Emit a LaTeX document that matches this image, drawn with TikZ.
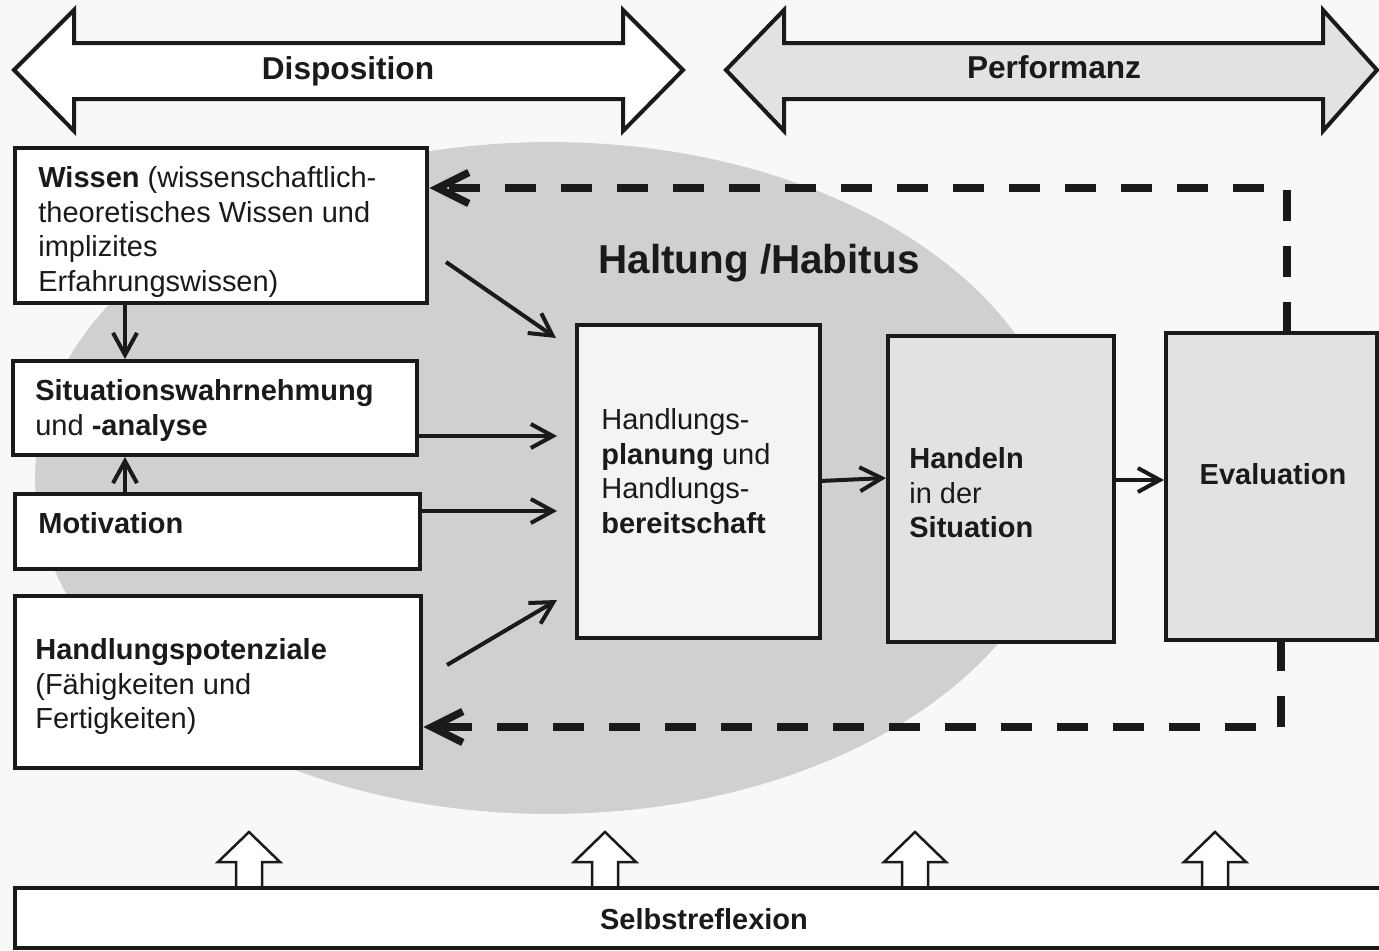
\documentclass[tikz,border=0pt]{standalone}
\usepackage{fontspec}
\setmainfont{Liberation Sans}
\usetikzlibrary{arrows.meta}
\definecolor{bg}{HTML}{F8F8F8}
\definecolor{ell}{HTML}{D0D0D0}
\definecolor{lg}{HTML}{E2E2E2}
\definecolor{pl}{HTML}{F4F4F4}
\definecolor{ink}{HTML}{1A1A1A}
\begin{document}
\begin{tikzpicture}[x=0.02cm,y=-0.02cm,
  every node/.style={font=\fontsize{16.5}{19.75}\selectfont,text=ink},
  box/.style={draw=ink,line width=0.09cm,inner sep=0,outer sep=0,anchor=north west,rectangle},
  txt/.style={inner sep=0,anchor=north west,align=left},
  arr/.style={draw=ink,line width=0.08cm,-{Straight Barb[length=0.44cm,width=0.48cm]}},
  fb/.style={draw=ink,line width=0.15cm,dash pattern=on 0.62cm off 0.5cm,-{Straight Barb[length=0.62cm,width=0.62cm]}},
  bigarrow/.style={draw=ink,line width=0.08cm,line join=miter},
  hollow/.style={draw=ink,line width=0.05cm,fill=white,line join=miter}]
\useasboundingbox (0,0) rectangle (1379,950);
\fill[bg] (0,0) rectangle (1379,950);
% Haltung ellipse
\fill[ell] (550,478) ellipse [x radius=10.3cm, y radius=6.72cm];
% top double arrows
\draw[bigarrow,fill=white] (14,70) -- (74,10) -- (74,43) -- (623,43) -- (623,10) -- (683,70) -- (623,131) -- (623,99) -- (74,99) -- (74,131) -- cycle;
\node[font=\fontsize{18}{21}\selectfont\bfseries,anchor=base] (dispo) at (348,79) {Disposition};
\draw[bigarrow,fill=lg] (726,70) -- (784,10) -- (784,43) -- (1323,43) -- (1323,10) -- (1377,70) -- (1323,131) -- (1323,99) -- (784,99) -- (784,131) -- cycle;
\node[font=\fontsize{18}{21}\selectfont\bfseries,anchor=base] (perf) at (1054,78) {Performanz};
% Haltung label
\node[font=\fontsize{23}{26}\selectfont\bfseries,anchor=base] (haltung) at (759,273) {Haltung /Habitus};
% boxes
\node[box,fill=white,minimum width=8.24cm,minimum height=3.1cm] (wissen) at (15,148) {};
\node[txt] (wissent) at (38,166) {\textbf{Wissen} (wissenschaftlich-\\theoretisches Wissen und\\implizites\\Erfahrungswissen)};
\node[box,fill=white,minimum width=8.08cm,minimum height=1.88cm] (sit) at (13,361) {};
\node[txt] (sitt) at (35,379) {\textbf{Situationswahrnehmung}\\und \textbf{-analyse}};
\node[box,fill=white,minimum width=8.1cm,minimum height=1.5cm] (mot) at (15,494) {};
\node[txt] (mott) at (38,512) {\textbf{Motivation}};
\node[box,fill=white,minimum width=8.12cm,minimum height=3.44cm] (pot) at (15,596) {};
\node[txt] (pott) at (35,638) {\textbf{Handlungspotenziale}\\(Fähigkeiten und\\Fertigkeiten)};
\node[box,fill=pl,minimum width=4.86cm,minimum height=6.26cm] (plan) at (577,325) {};
\node[txt] (plant) at (601,408) {Handlungs-\\\textbf{planung} und\\Handlungs-\\\textbf{bereitschaft}};
\node[box,fill=lg,minimum width=4.52cm,minimum height=6.12cm] (hand) at (888,336) {};
\node[txt] (handt) at (909,447) {\textbf{Handeln}\\in der\\\textbf{Situation}};
\node[box,fill=lg,minimum width=4.22cm,minimum height=6.14cm] (eval) at (1166,333) {};
\node[font=\fontsize{16.5}{19.75}\selectfont\bfseries,anchor=base] (evalt) at (1273,484) {Evaluation};
% solid arrows
\coordinate (cx) at (125,0);
\draw[arr] (wissen.south -| cx) -- ([yshift=0.04cm]sit.north -| cx);
\draw[arr] (mot.north -| cx) -- ([yshift=-0.04cm]sit.south -| cx);
\coordinate (w1) at (446,262);
\coordinate (w2) at (556,338);
\draw[arr] (w1) -- (w2);
\draw[arr] (sit.east |- 0,436) -- (557,436);
\draw[arr] (mot.east |- 0,511) -- (557,511);
\coordinate (p1) at (447,665);
\coordinate (p2) at (557,600);
\draw[arr] (p1) -- (p2);
\draw[arr] (plan.east |- 0,481) -- ([xshift=-0.04cm]hand.west |- 0,478);
\draw[arr] (hand.east |- 0,480) -- ([xshift=-0.04cm]eval.west |- 0,480);
% dashed feedback
\coordinate (ctop) at (1287,188);
\draw[fb] (eval.north -| ctop) -- (ctop) -- ([xshift=0.05cm]wissen.east |- ctop);
\coordinate (cbot) at (1281,727);
\draw[fb] (eval.south -| cbot) -- (cbot) -- ([xshift=0.05cm]pot.east |- cbot);
% hollow arrows
\foreach \x in {249,605,915,1215}{
  \draw[hollow] (\x-13,890) -- (\x-13,862) -- (\x-31,862) -- (\x,832) -- (\x+31,862) -- (\x+13,862) -- (\x+13,890);
}
\node[box,fill=white,minimum width=27.6cm,minimum height=1.2cm] (selbst) at (15,888) {};
\node[font=\fontsize{16.5}{19.75}\selectfont\bfseries,anchor=base] (selbstt) at (704,929) {Selbstreflexion};
\end{tikzpicture}
\end{document}
